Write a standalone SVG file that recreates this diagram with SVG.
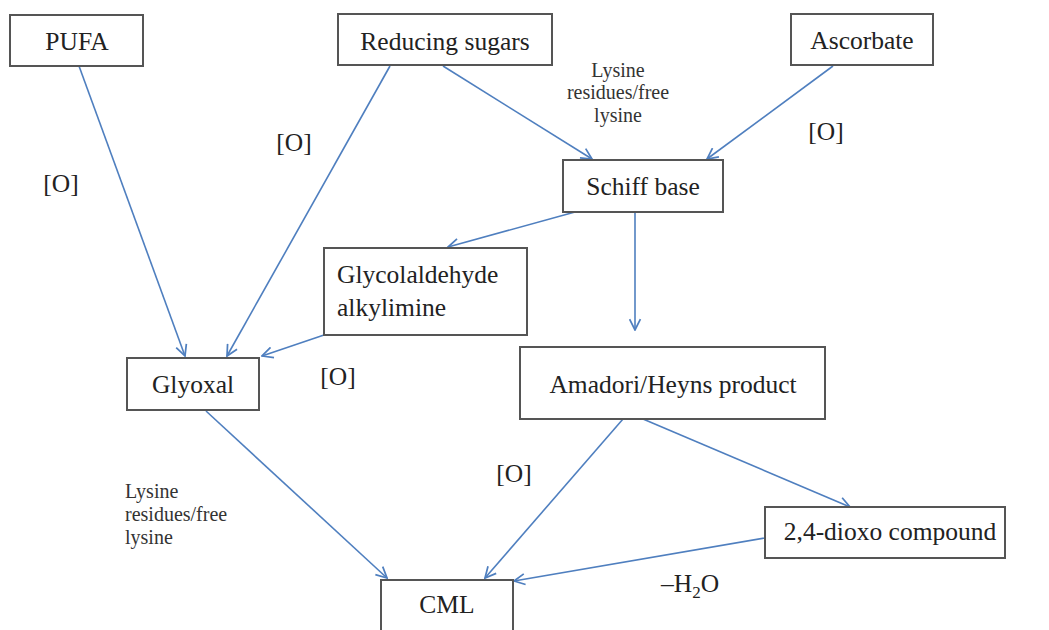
<svg xmlns="http://www.w3.org/2000/svg" width="1049" height="630" viewBox="0 0 1049 630">
<style>
  .box { fill: #ffffff; stroke: #555555; stroke-width: 2; }
  .lbl { font-size: 25.5px; fill: #222222; }
  .mid { text-anchor: middle; }
  .small { font-size: 20px; fill: #333333; }
  .conn line { stroke: #4f7fbf; stroke-width: 1.6; fill: none; marker-end: url(#arr); }
</style>
<defs>
  <marker id="arr" viewBox="0 0 12 12" refX="11" refY="6" markerWidth="13" markerHeight="13" markerUnits="userSpaceOnUse" orient="auto">
    <path d="M1,1 L11,6 L1,11" fill="none" stroke="#4f7fbf" stroke-width="1.6"/>
  </marker>
</defs>
<rect width="1049" height="630" fill="#ffffff"/>

<g id="connectors" class="conn">
  <line x1="79" y1="66" x2="185" y2="356"/>
  <line x1="390" y1="66" x2="227" y2="356"/>
  <line x1="443" y1="66" x2="592" y2="159"/>
  <line x1="833" y1="66" x2="707" y2="159"/>
  <line x1="575" y1="212" x2="448" y2="247"/>
  <line x1="324" y1="335" x2="262" y2="356"/>
  <line x1="635" y1="212" x2="635" y2="330"/>
  <line x1="206" y1="411" x2="387" y2="578"/>
  <line x1="623" y1="419" x2="485" y2="578"/>
  <line x1="643" y1="419" x2="850" y2="507"/>
  <line x1="765" y1="538" x2="514" y2="581"/>
</g>

<g font-family="Liberation Serif, DejaVu Serif, serif">
<g id="PUFA">
  <rect class="box" x="10" y="15" width="133" height="51"/>
  <text class="lbl mid" x="77" y="50">PUFA</text>
</g>
<g id="ReducingSugars">
  <rect class="box" x="338" y="14" width="214" height="51"/>
  <text class="lbl mid" x="445" y="50">Reducing sugars</text>
</g>
<g id="Ascorbate">
  <rect class="box" x="791" y="14" width="142" height="51"/>
  <text class="lbl mid" x="862" y="49">Ascorbate</text>
</g>
<g id="SchiffBase">
  <rect class="box" x="563" y="160" width="160" height="52"/>
  <text class="lbl mid" x="643" y="195">Schiff base</text>
</g>
<g id="Glycolaldehyde">
  <rect class="box" x="324" y="248" width="203" height="87"/>
  <text class="lbl" x="337" y="283">Glycolaldehyde</text>
  <text class="lbl" x="337" y="316">alkylimine</text>
</g>
<g id="Glyoxal">
  <rect class="box" x="127" y="358" width="132" height="52"/>
  <text class="lbl mid" x="193" y="393">Glyoxal</text>
</g>
<g id="Amadori">
  <rect class="box" x="520" y="347" width="305" height="72"/>
  <text class="lbl mid" x="673" y="393">Amadori/Heyns product</text>
</g>
<g id="Dioxo">
  <rect class="box" x="765" y="507" width="240" height="51"/>
  <text class="lbl mid" x="890" y="540">2,4-dioxo compound</text>
</g>
<g id="CML">
  <rect class="box" x="381" y="580" width="132" height="60"/>
  <text class="lbl mid" x="447" y="613">CML</text>
</g>

<g id="labels">
  <text class="lbl mid" x="61" y="192">[O]</text>
  <text class="lbl mid" x="294" y="151">[O]</text>
  <text class="lbl mid" x="826" y="140">[O]</text>
  <text class="lbl mid" x="338" y="385">[O]</text>
  <text class="lbl mid" x="514" y="482">[O]</text>
  <text class="small mid" x="618" y="77">Lysine</text>
  <text class="small mid" x="618" y="99">residues/free</text>
  <text class="small mid" x="618" y="122">lysine</text>
  <text class="small" x="125" y="498">Lysine</text>
  <text class="small" x="125" y="521">residues/free</text>
  <text class="small" x="125" y="544">lysine</text>
  <text class="lbl" x="661" y="592">–H<tspan dy="6" font-size="17">2</tspan><tspan dy="-6">O</tspan></text>
</g>
</g>
</svg>
